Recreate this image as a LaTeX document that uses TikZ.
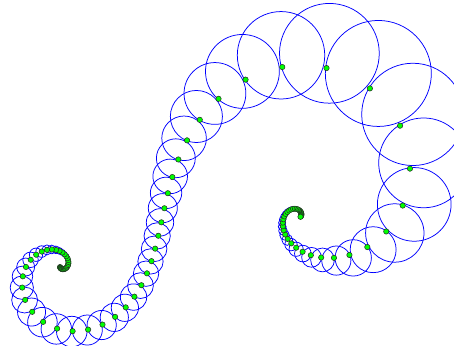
\documentclass[tikz,border=0pt]{standalone}

% point number #1 of the double spiral, and its ring (radius factor #2)
\newcommand{\pearlcalc}[2]{%
  \pgfmathsetmacro{\mag}{1.984*exp(0.1014*#1)}%
  \pgfmathsetmacro{\ang}{54-11.67*#1}%
  \pgfmathsetmacro{\ux}{\mag*cos(\ang)-1}%
  \pgfmathsetmacro{\uy}{\mag*sin(\ang)}%
  \pgfmathsetmacro{\rad}{#2*\mag}%
  \pgfmathsetmacro{\den}{\ux*\ux+\uy*\uy-\rad*\rad}%
  \pgfmathsetmacro{\vx}{\ux/\den}%
  \pgfmathsetmacro{\vy}{\uy/\den}%
  \pgfmathsetmacro{\cx}{298+236.5*\vx-50*\vy}%
  \pgfmathsetmacro{\cy}{216-236.5*\vy-50*\vx}%
  \pgfmathsetmacro{\R}{241.7*\rad/\den}%
}

\tikzset{
  ring/.style={draw=blue, line width=0.75pt},
  pearl/.style={draw=black!85, fill=green, line width=0.5pt},
}

\begin{document}
\begin{tikzpicture}[x=1pt,y=-1pt]

  \useasboundingbox (0,0) rectangle (454,345);

  % the rings
  \foreach \n in {-55,...,38}
  {
    \pearlcalc{\n}{0.22}
    \draw[ring] (\cx,\cy) circle[radius=\R];
  }

  % the points on the spiral
  \foreach \n in {-55,...,38}
  {
    \pearlcalc{\n}{0}
    \filldraw[pearl] (\cx,\cy) circle[radius=2.7];
  }

\end{tikzpicture}
\end{document}
